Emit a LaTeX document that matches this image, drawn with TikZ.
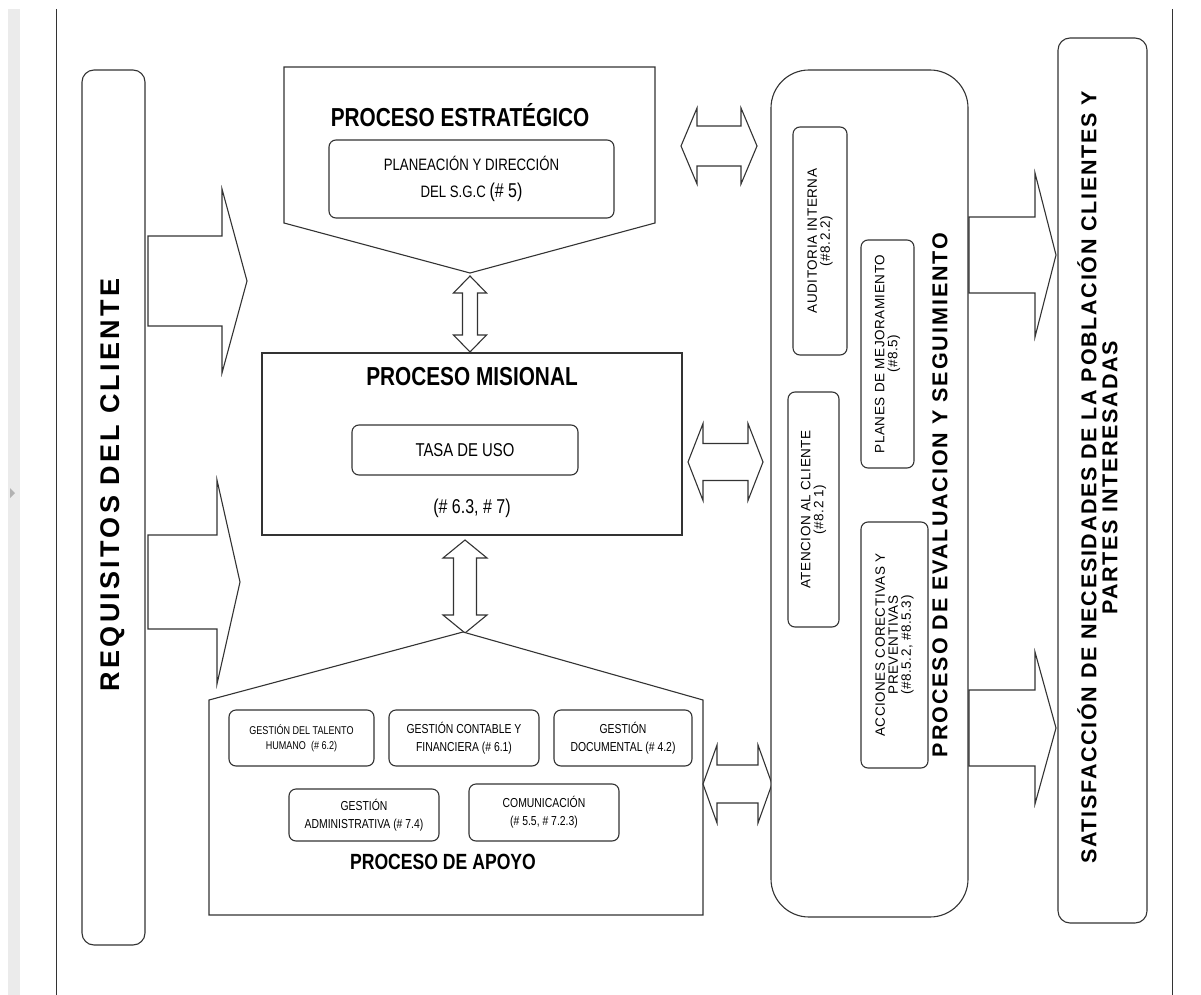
\documentclass[tikz,border=0pt]{standalone}
\usepackage{fontspec}
\setmainfont{Liberation Sans}
\newfontfamily\narrowfont[FakeStretch=0.8]{Liberation Sans}
\usetikzlibrary{positioning}
\definecolor{edge}{HTML}{333333}
\definecolor{sidebar}{HTML}{EBEBEB}

% block arrows: tail, tip, centre, shaft half, head half, head base / head length
\newcommand{\rightblock}[6]{\draw[shapeline] (#1,#3-#4) -- (#6,#3-#4) -- (#6,#3-#5) -- (#2,#3) -- (#6,#3+#5) -- (#6,#3+#4) -- (#1,#3+#4) -- cycle;}
\newcommand{\hdouble}[6]{\draw[shapeline] (#1,#3) -- (#1+#6,#3-#5) -- (#1+#6,#3-#4) -- (#2-#6,#3-#4) -- (#2-#6,#3-#5) -- (#2,#3) -- (#2-#6,#3+#5) -- (#2-#6,#3+#4) -- (#1+#6,#3+#4) -- (#1+#6,#3+#5) -- cycle;}
\newcommand{\vdouble}[6]{\draw[shapeline] (#3,#1) -- (#3-#5,#1+#6) -- (#3-#4,#1+#6) -- (#3-#4,#2-#6) -- (#3-#5,#2-#6) -- (#3,#2) -- (#3+#5,#2-#6) -- (#3+#4,#2-#6) -- (#3+#4,#1+#6) -- (#3+#5,#1+#6) -- cycle;}

\begin{document}
\begin{tikzpicture}[
  x=1pt, y=-1pt,
  shapeline/.style={draw=edge, line width=1.1pt, fill=white, line join=miter},
  bigbox/.style={shapeline, rounded corners=12pt, inner sep=0pt},
  subbox/.style={shapeline, rounded corners=7pt, inner sep=0pt, align=center, font=\narrowfont\fontsize{13}{18}\selectfont},
  evalitem/.style={shapeline, rounded corners=7pt, inner sep=0pt, align=center, rotate=90, font=\fontsize{13.5}{13}\selectfont\addfontfeature{LetterSpace=4}},
  proctitle/.style={inner sep=0pt, font=\narrowfont\bfseries\fontsize{26}{28}\selectfont},
  sidetitle/.style={inner sep=0pt, rotate=90, align=center}
]
\useasboundingbox (0,0) rectangle (1201,995);

% viewer margin
\fill[sidebar] (8,9) rectangle (20,995);
\fill[gray!60] (10,488) -- (15,493) -- (10,498) -- cycle;
\draw[edge, line width=0.9pt] (56,9) -- (56,995);
\draw[edge, line width=0.9pt] (1172,9) -- (1172,995);

% customer requirements
\node[bigbox, minimum width=63pt, minimum height=875pt] (req) at (113.5,507.5) {};
\node[sidetitle, font={\bfseries\fontsize{27}{28}\selectfont\addfontfeature{LetterSpace=12}}] (reqlabel) at (113,485) {REQUISITOS DEL CLIENTE};

\rightblock{148}{247}{281}{45}{92}{222}
\rightblock{148}{240}{582}{47}{102}{217}

% strategic process
\draw[shapeline] (284,67) -- (655,67) -- (655,223) -- (470,273) -- (284,223) -- cycle;
\node[proctitle] (esttitle) at (460,115) {PROCESO ESTRATÉGICO};
\node[subbox, minimum width=285pt, minimum height=78pt, font=\narrowfont\fontsize{16.5}{27}\selectfont] (plan) at (471.5,179) {PLANEACIÓN Y DIRECCIÓN\\DEL S.G.C {\fontsize{20}{20}\selectfont(\# 5)}};

\vdouble{276}{352}{470}{7.5}{16.5}{17}

% mission process
\node[shapeline, minimum width=420pt, minimum height=182pt, inner sep=0pt] (mis) at (472,444) {};
\node[proctitle] (mistitle) at (472,377) {PROCESO MISIONAL};
\node[subbox, minimum width=226pt, minimum height=50pt, font=\narrowfont\fontsize{18.6}{20}\selectfont] (tasa) at (465,450) {TASA DE USO};
\node[inner sep=0pt, font=\narrowfont\fontsize{20}{22}\selectfont] (misnum) at (472,508) {(\# 6.3, \# 7)};

\vdouble{540}{633}{465}{11.5}{22}{18}

% support process
\draw[shapeline] (209,700) -- (463,632) -- (703,700) -- (703,915) -- (209,915) -- cycle;
\node[subbox, minimum width=145pt, minimum height=56pt, font=\narrowfont\fontsize{11.3}{15}\selectfont] (talento) at (301.5,738) {GESTIÓN DEL TALENTO\\HUMANO\ \ (\# 6.2)};
\node[subbox, minimum width=150pt, minimum height=56pt] (contable) at (464,738) {GESTIÓN CONTABLE Y\\FINANCIERA (\# 6.1)};
\node[subbox, minimum width=138pt, minimum height=56pt] (documental) at (623,738) {GESTIÓN\\DOCUMENTAL (\# 4.2)};
\node[subbox, minimum width=150pt, minimum height=52pt] (admin) at (364,815) {GESTIÓN\\ADMINISTRATIVA (\# 7.4)};
\node[subbox, minimum width=150pt, minimum height=57pt] (comunic) at (544,812.5) {COMUNICACIÓN\\(\# 5.5, \# 7.2.3)};
\node[proctitle, font=\narrowfont\bfseries\fontsize{22}{24}\selectfont] (apotitle) at (443,862) {PROCESO DE APOYO};

% exchanges with evaluation
\hdouble{681}{757}{146}{20}{38}{16}
\hdouble{688}{763}{462}{18.5}{38.5}{15}
\hdouble{703}{772}{784}{19}{39}{14}

% evaluation and follow-up
\node[bigbox, rounded corners=38pt, minimum width=197pt, minimum height=847pt] (eval) at (869.5,493.5) {};
\node[evalitem, minimum width=228pt, minimum height=54pt] (auditoria) at (820,241) {AUDITORIA INTERNA\\(\#8.2.2)};
\node[evalitem, minimum width=228pt, minimum height=53pt] (planes) at (887.5,354) {PLANES DE MEJORAMIENTO\\(\#8.5)};
\node[evalitem, minimum width=235pt, minimum height=51pt] (atencion) at (813.5,509.5) {ATENCION AL CLIENTE\\(\#8.2 1)};
\node[evalitem, minimum width=246pt, minimum height=67pt] (acciones) at (894.5,645) {ACCIONES CORECTIVAS Y\\PREVENTIVAS\\(\#8.5.2, \#8.5.3)};
\node[sidetitle, font={\bfseries\fontsize{21.5}{22}\selectfont\addfontfeature{LetterSpace=9}}] (evallabel) at (940,495) {PROCESO DE EVALUACION Y SEGUIMIENTO};

\rightblock{969}{1056}{255}{38}{82}{1035}
\rightblock{969}{1056}{728}{38}{76}{1035}

% satisfaction
\node[bigbox, minimum width=89pt, minimum height=885pt] (sat) at (1102.5,480.5) {};
\node[sidetitle, font={\bfseries\fontsize{21.5}{21}\selectfont\addfontfeature{LetterSpace=8}}] (satlabel) at (1097.5,477.5) {SATISFACCIÓN DE NECESIDADES DE LA POBLACIÓN CLIENTES Y\\PARTES INTERESADAS};
\end{tikzpicture}
\end{document}
